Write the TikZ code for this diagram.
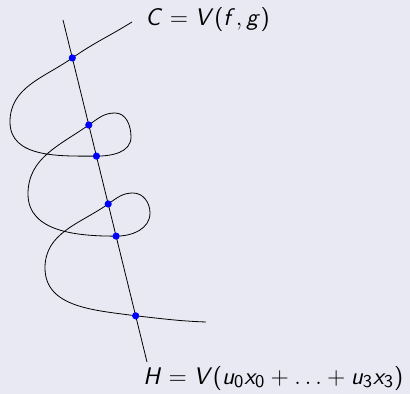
\documentclass[tikz,border=0pt]{standalone}
\usetikzlibrary{calc}
\usetikzlibrary{backgrounds}
\DeclareSymbolFont{operators}{OT1}{cmss}{m}{n}
\DeclareMathAlphabet{\mathsl}{OT1}{cmss}{m}{sl}
\definecolor{bgcol}{RGB}{233,233,243}
\tikzstyle{isect}=[circle,fill=blue,inner sep=0pt,minimum size=3.6pt]
\tikzstyle{curve}=[draw=black,thin]
\tikzstyle{lbl}=[anchor=west,inner sep=0pt,font=\fontsize{12.4}{14}\selectfont]

\begin{document}
\begin{tikzpicture}[x=0.5pt,y=0.5pt]
  \fill[bgcol] (0,0) rectangle (410,394);
  \useasboundingbox (0,0) rectangle (410,394);
  % the hyperplane
  \coordinate (Htop) at (63,374);
  \coordinate (Hbot) at (147,32);
  \draw[curve] (Htop) -- (Hbot);
  % points of C on H
  \coordinate (P1) at ($(Htop)!0.111!(Hbot)$);
  \coordinate (P2) at ($(Htop)!0.307!(Hbot)$);
  \coordinate (P3) at ($(Htop)!0.398!(Hbot)$);
  \coordinate (P4) at ($(Htop)!0.538!(Hbot)$);
  \coordinate (P5) at ($(Htop)!0.632!(Hbot)$);
  \coordinate (P6) at ($(Htop)!0.865!(Hbot)$);
  % the curve
  \coordinate (S) at (132,372);
  \coordinate (L1) at (10,272);
  \coordinate (R1) at (131,257);
  \coordinate (T1) at (115,281);
  \coordinate (L2) at (28,200);
  \coordinate (R2) at (150,181);
  \coordinate (T2) at (133,201);
  \coordinate (L3) at (45,126);
  \coordinate (E) at (206,72);
  \draw[curve] (S) to[out=212,in=35] (P1) to[out=215,in=90] (L1)
    to[out=270,in=180] (P3) to[out=0,in=270] (R1) to[out=90,in=0] (T1)
    to[out=180,in=35] (P2) to[out=215,in=90] (L2) to[out=270,in=180] (P5)
    to[out=0,in=270] (R2) to[out=90,in=0] (T2) to[out=180,in=35] (P4)
    to[out=215,in=90] (L3) to[out=270,in=172] (P6) to[out=-6,in=178] (E);
  \foreach \p in {1,...,6}
    \node[isect] (p\p) at (P\p) {};
  % labels
  \node[lbl] (C) at (145,374) {$\mathsl{C} = \mathsl{V}(\mathsl{f},\mathsl{g})$};
  \node[lbl] (H) at (143,16) {$\mathsl{H} = \mathsl{V}(\mathsl{u}_0\mathsl{x}_0+\ldots+\mathsl{u}_3\mathsl{x}_3)$};
\end{tikzpicture}
\end{document}
